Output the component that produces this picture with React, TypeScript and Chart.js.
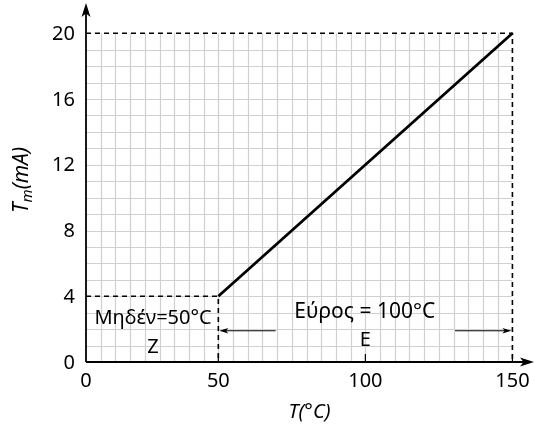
import React, { useEffect, useRef } from "react";
import { Chart, registerables } from "chart.js";

Chart.register(...registerables);

// Scale: the drawn origin sits at T=5 (labelled "0"), like the reference sketch
const X_MIN = 5;
const X_MAX = 157;
const Y_MIN = 0;
const Y_MAX = 21.6;

const xTickValues = [5, 50, 100, 150];
const xTickLabels = ["0", "50", "100", "150"];
const yTickValues = [0, 4, 8, 12, 16, 20];
const yTickLabels = ["0", "4", "8", "12", "16", "20"];

// Transfer characteristic: T (°C) -> Tm (mA)
const lineT = [50, 150];
const lineTm = [4, 20];

// Dashed guide lines
const guideHighT = [5, 150, 150];
const guideHighTm = [20, 20, 0];
const guideLowT = [5, 50, 50];
const guideLowTm = [4, 4, 0];

// Grid extents
const gridXStep = 5;
const gridYStep = 1;
const gridXEnd = 150;
const gridYEnd = 20;

const FONT = "'Noto Sans', 'Open Sans', sans-serif";

const toPts = (xs: number[], ys: number[]) => xs.map((x, i) => ({ x, y: ys[i] }));

const drawArrowHead = (ctx: CanvasRenderingContext2D, x: number, y: number, dir: "up" | "right" | "left", len: number, half: number) => {
  ctx.beginPath();
  if (dir === "up") {
    ctx.moveTo(x, y);
    ctx.lineTo(x - half, y + len);
    ctx.lineTo(x, y + len * 0.75);
    ctx.lineTo(x + half, y + len);
  } else if (dir === "right") {
    ctx.moveTo(x, y);
    ctx.lineTo(x - len, y - half);
    ctx.lineTo(x - len * 0.75, y);
    ctx.lineTo(x - len, y + half);
  } else {
    ctx.moveTo(x, y);
    ctx.lineTo(x + len, y - half);
    ctx.lineTo(x + len * 0.75, y);
    ctx.lineTo(x + len, y + half);
  }
  ctx.closePath();
  ctx.fill();
};

const gridPlugin = {
  id: "sketchGrid",
  beforeDatasetsDraw(chart: any) {
    const { ctx, scales } = chart;
    const xs = scales.x;
    const ys = scales.y;
    ctx.save();
    ctx.strokeStyle = "#d0d0d0";
    ctx.lineWidth = 1.2;
    const top = ys.getPixelForValue(gridYEnd);
    const bottom = ys.getPixelForValue(0);
    const left = xs.getPixelForValue(X_MIN);
    const right = xs.getPixelForValue(gridXEnd);
    for (let v = X_MIN + gridXStep; v < gridXEnd; v += gridXStep) {
      const px = Math.round(xs.getPixelForValue(v)) + 0.5;
      ctx.beginPath();
      ctx.moveTo(px, top);
      ctx.lineTo(px, bottom);
      ctx.stroke();
    }
    for (let v = gridYStep; v < gridYEnd; v += gridYStep) {
      const py = Math.round(ys.getPixelForValue(v)) + 0.5;
      ctx.beginPath();
      ctx.moveTo(left, py);
      ctx.lineTo(right, py);
      ctx.stroke();
    }
    ctx.restore();
  },
  afterDatasetsDraw(chart: any) {
    const { ctx, scales, width } = chart;
    const xs = scales.x;
    const ys = scales.y;
    const ox = xs.getPixelForValue(X_MIN);
    const oy = ys.getPixelForValue(0);
    ctx.save();
    ctx.strokeStyle = "#000";
    ctx.fillStyle = "#000";
    ctx.lineWidth = 1.8;
    // axes
    ctx.beginPath();
    ctx.moveTo(ox, oy);
    ctx.lineTo(ox, 8);
    ctx.stroke();
    drawArrowHead(ctx, ox, 3, "up", 14, 4.5);
    ctx.beginPath();
    ctx.moveTo(ox, oy);
    ctx.lineTo(width - 4, oy);
    ctx.stroke();
    drawArrowHead(ctx, width, oy, "right", 14, 4.5);
    // small tick marks on x axis
    ctx.lineWidth = 1.2;
    xTickValues.slice(1).forEach((v) => {
      const px = xs.getPixelForValue(v);
      ctx.beginPath();
      ctx.moveTo(px, oy);
      ctx.lineTo(px, oy - 8);
      ctx.stroke();
    });

    // tick labels
    ctx.font = `20px ${FONT}`;
    ctx.textBaseline = "middle";
    ctx.textAlign = "right";
    yTickValues.forEach((v, i) => {
      ctx.fillText(yTickLabels[i], 75, ys.getPixelForValue(v) + 1);
    });
    ctx.textAlign = "center";
    xTickValues.forEach((v, i) => {
      ctx.fillText(xTickLabels[i], xs.getPixelForValue(v), 381);
    });

    // span arrows
    const ay = ys.getPixelForValue(1.9);
    ctx.lineWidth = 1;
    const l0 = xs.getPixelForValue(50);
    const l1 = xs.getPixelForValue(69.5);
    ctx.beginPath();
    ctx.moveTo(l0 + 6, ay);
    ctx.lineTo(l1, ay);
    ctx.stroke();
    drawArrowHead(ctx, l0 + 1, ay, "left", 9, 2.8);
    const r0 = xs.getPixelForValue(130.5);
    const r1 = xs.getPixelForValue(150);
    ctx.beginPath();
    ctx.moveTo(r0, ay);
    ctx.lineTo(r1 - 6, ay);
    ctx.stroke();
    drawArrowHead(ctx, r1 - 1, ay, "right", 9, 2.8);

    // annotation texts
    ctx.font = `20px ${FONT}`;
    ctx.textAlign = "center";
    ctx.textBaseline = "middle";
    ctx.fillText("Μηδέν=50°C", xs.getPixelForValue(27.8), ys.getPixelForValue(2.65));
    ctx.fillText("Z", xs.getPixelForValue(27.8), ys.getPixelForValue(0.9));
    ctx.font = `21px ${FONT}`;
    ctx.fillText("Εύρος = 100°C", xs.getPixelForValue(99.8), ys.getPixelForValue(3.05));
    ctx.font = `20px ${FONT}`;
    ctx.fillText("E", xs.getPixelForValue(100), ys.getPixelForValue(1.3));

    // x title
    ctx.font = `italic 20px ${FONT}`;
    ctx.fillText("T(°C)", (chart.chartArea.left + chart.chartArea.right) / 2, 412);

    // y title with subscript
    ctx.translate(21, 180);
    ctx.rotate(-Math.PI / 2);
    ctx.textAlign = "left";
    ctx.textBaseline = "alphabetic";
    const f1 = `italic 21px ${FONT}`;
    const f2 = `italic 15px ${FONT}`;
    ctx.font = f1;
    const wT = ctx.measureText("T").width;
    ctx.font = f2;
    const wm = ctx.measureText("m").width;
    ctx.font = f1;
    const wRest = ctx.measureText("(mA)").width;
    const total = wT + wm + wRest;
    let cx = -total / 2;
    const base = 7;
    ctx.fillText("T", cx, base);
    cx += wT;
    ctx.font = f2;
    ctx.fillText("m", cx, base + 4);
    cx += wm;
    ctx.font = f1;
    ctx.fillText("(mA)", cx, base);
    ctx.restore();
  },
};

export default function App() {
  const ref = useRef<HTMLCanvasElement | null>(null);
  useEffect(() => {
    if (!ref.current) return;
    const chart = new Chart(ref.current, {
      type: "line",
      data: {
        datasets: [
          {
            data: toPts(guideHighT, guideHighTm),
            borderColor: "#000",
            borderWidth: 1.6,
            borderDash: [5, 4],
            pointRadius: 0,
            fill: false,
          },
          {
            data: toPts(guideLowT, guideLowTm),
            borderColor: "#000",
            borderWidth: 1.6,
            borderDash: [5, 4],
            pointRadius: 0,
            fill: false,
          },
          {
            data: toPts(lineT, lineTm),
            borderColor: "#000",
            borderWidth: 2.8,
            pointRadius: 0,
            fill: false,
          },
        ],
      },
      options: {
        responsive: false,
        animation: false,
        layout: { padding: { left: 0, right: 1, top: 7, bottom: 0 } },
        plugins: { legend: { display: false }, tooltip: { enabled: false } },
        scales: {
          x: {
            type: "linear",
            min: X_MIN,
            max: X_MAX,
            border: { display: false },
            grid: { display: false, drawTicks: false },
            afterBuildTicks: (s: any) => {
              s.ticks = xTickValues.map((v) => ({ value: v }));
            },
            afterFit: (s: any) => {
              s.height = 66;
            },
            ticks: { display: false },
          },
          y: {
            type: "linear",
            min: Y_MIN,
            max: Y_MAX,
            border: { display: false },
            grid: { display: false, drawTicks: false },
            afterBuildTicks: (s: any) => {
              s.ticks = yTickValues.map((v) => ({ value: v }));
            },
            afterFit: (s: any) => {
              s.width = 86;
            },
            ticks: { display: false },
          },
        },
      },
      plugins: [gridPlugin],
    });
    return () => chart.destroy();
  }, []);
  return (
    <div style={{ position: "absolute", left: 0, top: 0, width: 534, height: 428 }}>
      <canvas ref={ref} width={534} height={428} style={{ display: "block" }} />
    </div>
  );
}
